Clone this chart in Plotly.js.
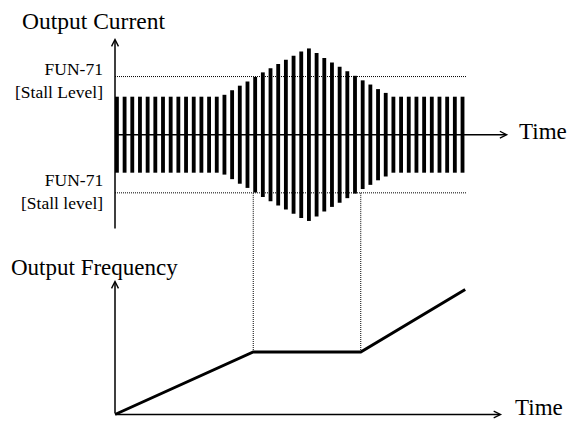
<!DOCTYPE html>
<html>
<head>
<meta charset="utf-8">
<script src="https://cdn.plot.ly/plotly-3.0.1.min.js"></script>
<style>
html,body{margin:0;padding:0;background:#fff;overflow:hidden;}
#chart{width:571px;height:421px;}
</style>
</head>
<body>
<div id="chart"></div>
<script>
// ---- data ----
const pulseStart = [0,1,2,3,4,5,6,7,8,9,10,11,12,13,14,15,16,17,18,19,20,21,22,23,24,25,26,27,28,29,30,31,32,33,34,35,36,37,38,39,40,41,42,43,44,45];
const currentAmplitude = [1,1,1,1,1,1,1,1,1,1,1,1,1,1,
  1.05,1.17,1.29,1.40,1.52,1.64,1.75,1.86,1.97,2.08,2.19,2.27,
  2.15,2.02,1.90,1.79,1.67,1.55,1.43,1.32,1.20,1.10,
  1,1,1,1,1,1,1,1,1,1];
const stallLevel = 1.53;
const stallLineEnd = 45.8;
const freqTime = [0, 18, 32, 45.6];
const freqValue = [0, 0.5, 0.5, 1.0];
const holdStart = 18, holdEnd = 32;
const topLabels = ["FUN-71<br>[Stall Level]", "FUN-71<br>[Stall level]"];

// ---- layout geometry ----
const W = 571, H = 421;
const split = 1 - 245 / H;
const xRange = [-14.974, 59.375];
const yRange = [-2.9026, 3.5447];
const y2Range = [-0.052, 1.356];
const serif = "Liberation Serif, Times New Roman, serif";

const bars = {
  type: 'bar', x: pulseStart,
  y: currentAmplitude.map(a => 2 * a),
  base: currentAmplitude.map(a => -a),
  width: 0.5, offset: 0,
  marker: {color: '#000', line: {width: 0}},
  xaxis: 'x', yaxis: 'y', hoverinfo: 'skip'
};
const freq = {
  type: 'scatter', mode: 'lines', x: freqTime, y: freqValue,
  line: {color: '#000', width: 3},
  xaxis: 'x2', yaxis: 'y2', hoverinfo: 'skip'
};

const dot = {color: '#000', width: 1, dash: '1px,1px'};
const shapes = [
  {type:'line', xref:'x', yref:'y', x0:0, x1:stallLineEnd, y0:stallLevel, y1:stallLevel, line:dot, layer:'below'},
  {type:'line', xref:'x', yref:'y', x0:0, x1:stallLineEnd, y0:-stallLevel, y1:-stallLevel, line:dot, layer:'below'},
  {type:'line', xref:'x', yref:'y', x0:holdStart, x1:holdStart, y0:-stallLevel, y1:yRange[0], line:dot, layer:'below'},
  {type:'line', xref:'x', yref:'y', x0:holdEnd, x1:holdEnd, y0:-stallLevel, y1:yRange[0], line:dot, layer:'below'},
  {type:'line', xref:'x2', yref:'y2', x0:holdStart, x1:holdStart, y0:y2Range[1], y1:freqValue[1], line:dot, layer:'below'},
  {type:'line', xref:'x2', yref:'y2', x0:holdEnd, x1:holdEnd, y0:y2Range[1], y1:freqValue[2], line:dot, layer:'below'}
];

function arrow(xr, yr, x, y, ax, ay) {
  return {xref:xr, yref:yr, axref:xr, ayref:yr, x:x, y:y, ax:ax, ay:ay, text:'',
    showarrow:true, arrowhead:5, arrowsize:0.9, arrowwidth:1.5, arrowcolor:'#000', standoff:0, startstandoff:0};
}
function label(text, px, py, anchor, size) {
  return {xref:'paper', yref:'paper', x:px / W, y:1 - py / H, text:text, showarrow:false,
    xanchor:anchor, yanchor:'middle', align: anchor === 'right' ? 'right' : 'left',
    font:{family:serif, size:size, color:'#000'}};
}

const annotations = [
  arrow('x', 'y', 0, 2.545, 0, -2.508),
  arrow('x', 'y', 51.2, 0, 0, 0),
  arrow('x2', 'y2', 0, 1.076, 0, 0),
  arrow('x2', 'y2', 50.4, 0, 0, 0),
  label('Output Current', 20, 20.5, 'left', 23.5),
  label('Time', 517, 132, 'left', 23),
  label(topLabels[0], 105, 81, 'right', 17.5),
  label(topLabels[1], 105, 191.5, 'right', 17.5),
  label('Output Frequency', 9, 267, 'left', 23),
  label('Time', 513, 407.5, 'left', 23)
];

const hidden = {showgrid:false, zeroline:false, showline:false, showticklabels:false, ticks:'', fixedrange:true};
const layout = {
  width: W, height: H, autosize: false,
  margin: {l:0, r:0, t:0, b:0, pad:0},
  paper_bgcolor: '#fff', plot_bgcolor: '#fff',
  showlegend: false,
  xaxis: Object.assign({domain:[0,1], range:xRange, anchor:'y'}, hidden),
  yaxis: Object.assign({domain:[split,1], range:yRange, anchor:'x'}, hidden),
  xaxis2: Object.assign({domain:[0,1], range:xRange, anchor:'y2'}, hidden),
  yaxis2: Object.assign({domain:[0,split], range:y2Range, anchor:'x2'}, hidden),
  shapes: shapes,
  annotations: annotations
};

Plotly.newPlot('chart', [bars, freq], layout, {staticPlot:true, displayModeBar:false});
</script>
</body>
</html>
